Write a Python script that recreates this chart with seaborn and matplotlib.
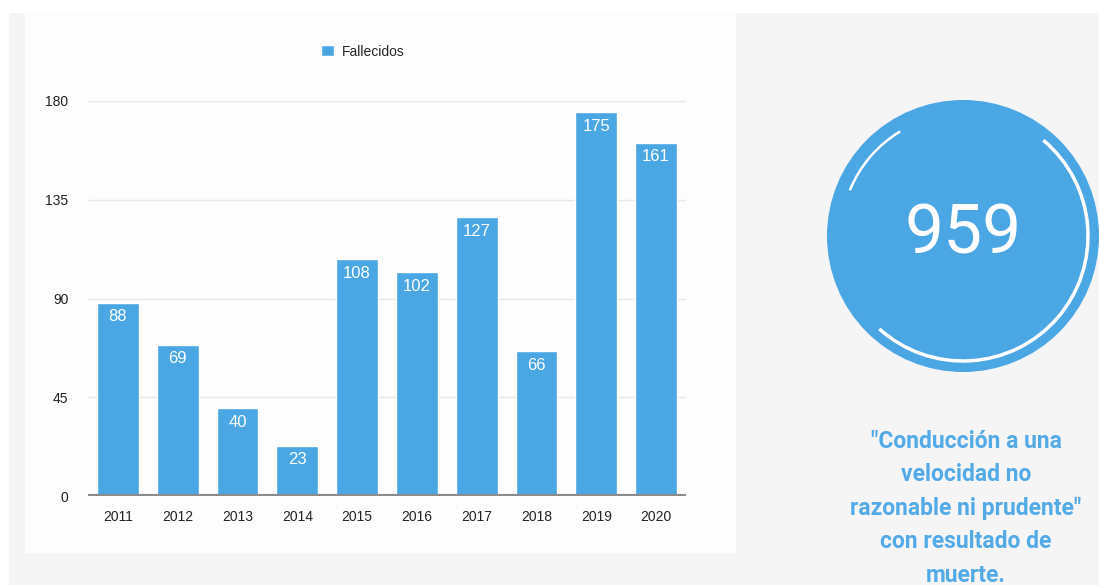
import numpy as np
import pandas as pd
import matplotlib
matplotlib.use("Agg")
import matplotlib.pyplot as plt
import seaborn as sns
from matplotlib.patches import Rectangle, Circle, Arc

years = ["2011", "2012", "2013", "2014", "2015", "2016", "2017", "2018", "2019", "2020"]
fallecidos = [88, 69, 40, 23, 108, 102, 127, 66, 175, 161]
y_ticks = [0, 45, 90, 135, 180]
series_name = "Fallecidos"
total_label = "959"
caption_lines = ['"Conducción a una', "velocidad no", 'razonable ni prudente"',
                 "con resultado de", "muerte."]

BLUE = "#4BA6E4"
W, H = 1099, 585

sns.set_theme(style="white")
plt.rcParams["font.family"] = ["Liberation Sans", "DejaVu Sans"]

fig = plt.figure(figsize=(W / 100, H / 100), dpi=100)
fig.patch.set_facecolor("#f5f5f5")

def px_rect(x0, y0, x1, y1, color, z=-10):
    fig.patches.append(Rectangle((x0 / W, 1 - y1 / H), (x1 - x0) / W, (y1 - y0) / H,
                                 transform=fig.transFigure, facecolor=color,
                                 edgecolor="none", zorder=z))

px_rect(0, 0, W, 13, "white")
px_rect(0, 0, 9, H, "white")
px_rect(25, 13, 736, 553, "#fdfdfd")

df = pd.DataFrame({"year": years, series_name: fallecidos})

ax = fig.add_axes([88 / W, 1 - 496 / H, (686 - 88) / W, (496 - 101) / H])
ax.set_facecolor("none")
sns.barplot(data=df, x="year", y=series_name, color=BLUE, saturation=1, width=0.7,
            ax=ax, label=series_name, zorder=3)
ax.set_xlim(-0.5, len(years) - 0.5)
ax.set_ylim(0, 180)
ax.set_yticks(y_ticks)
ax.set_yticklabels([str(t) for t in y_ticks])
ax.set_xlabel("")
ax.set_ylabel("")
for s in ax.spines.values():
    s.set_visible(False)
ax.grid(axis="y", color="#e8e8e8", linewidth=1, zorder=0)
ax.set_axisbelow(True)
ax.axhline(0, color="#8c8c8c", linewidth=3, zorder=4)
ax.tick_params(axis="y", length=0, pad=14, labelsize=10, labelcolor="#222222")
ax.tick_params(axis="x", length=0, pad=10, labelsize=10, labelcolor="#222222")

for i, v in enumerate(fallecidos):
    ax.text(i, v - 3, str(v), ha="center", va="top", color="white", fontsize=12, zorder=5)

leg = ax.legend(loc="lower center", bbox_to_anchor=(363 / W, 1 - 71 / H),
                bbox_transform=fig.transFigure, frameon=False, fontsize=10,
                handlelength=0.9, handleheight=0.9, handletextpad=0.6)

# right-hand badge
ax2 = fig.add_axes([0, 0, 1, 1], facecolor="none")
ax2.set_xlim(0, W)
ax2.set_ylim(H, 0)
ax2.set_aspect("equal")
ax2.axis("off")
cx, cy, r = 963, 236, 136
ax2.add_patch(Circle((cx, cy), r, facecolor=BLUE, edgecolor="none"))
# y axis inverted: visual angle phi -> theta = -phi
ax2.add_patch(Arc((cx, cy), 2 * 125, 2 * 125, theta1=-50, theta2=132, color="white", lw=2.5))
ax2.add_patch(Arc((cx, cy), 2 * 122, 2 * 122, theta1=-158, theta2=-121, color="white", lw=1.8))
ax2.text(cx, 234, total_label, ha="center", va="center", color="white", fontsize=50,
         family=["Roboto", "DejaVu Sans"])
for k, line in enumerate(caption_lines):
    ax2.text(966, 441 + k * 33.5, line, ha="center", va="center", color="#52AAE6",
             fontsize=16.5, fontweight="bold", family=["Roboto", "DejaVu Sans"])

fig.savefig("out.png", dpi=100, facecolor=fig.get_facecolor())
